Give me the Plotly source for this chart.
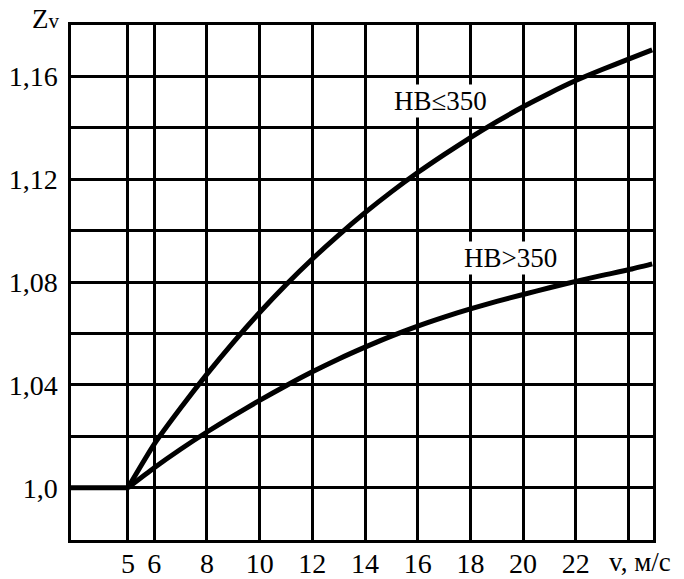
import plotly.graph_objects as go

# ---- data ----
baseline_v = [2.0, 5.0]
baseline_z = [1.0, 1.0]

v_soft = [5, 6, 7, 8, 9, 10, 11, 12, 13, 14, 15, 16, 17, 18, 19, 20, 21, 22, 23, 24, 24.9]
z_soft = [1.000, 1.017, 1.031, 1.0442, 1.0566, 1.0682, 1.079, 1.089, 1.0983, 1.107,
          1.1151, 1.1226, 1.1296, 1.1362, 1.1424, 1.1482, 1.1535, 1.1584, 1.1627, 1.1667, 1.1703]

v_hard = [5, 6, 7, 8, 9, 10, 11, 12, 13, 14, 15, 16, 17, 18, 19, 20, 21, 22, 23, 24, 24.9]
z_hard = [1.000, 1.0078, 1.015, 1.0217, 1.028, 1.034, 1.0397, 1.0451, 1.0501, 1.0547,
          1.059, 1.0629, 1.0664, 1.0696, 1.0725, 1.0752, 1.0778, 1.0803, 1.0826, 1.0848, 1.0871]

x_ticks = [5, 6, 8, 10, 12, 14, 16, 18, 20, 22, 24]
x_ticktext = ["5", "6", "8", "10", "12", "14", "16", "18", "20", "22", ""]
y_ticks = [1.00, 1.02, 1.04, 1.06, 1.08, 1.10, 1.12, 1.14, 1.16]
y_ticktext = ["1,0", "", "1,04", "", "1,08", "", "1,12", "", "1,16"]

label_soft = "HB≤350"
label_hard = "HB>350"
x_title = "v, м/с"
y_title = "Z<span style='font-size:21px'>v</span>"

FONT = "Liberation Serif, Times New Roman, serif"

fig = go.Figure()
fig.add_trace(go.Scatter(x=baseline_v, y=baseline_z, mode="lines",
                         line=dict(color="black", width=5), showlegend=False, hoverinfo="skip"))
fig.add_trace(go.Scatter(x=v_soft, y=z_soft, mode="lines",
                         line=dict(color="black", width=5, shape="spline", smoothing=0.6),
                         showlegend=False))
fig.add_trace(go.Scatter(x=v_hard, y=z_hard, mode="lines",
                         line=dict(color="black", width=5, shape="spline", smoothing=0.6),
                         showlegend=False))

fig.add_annotation(x=16.88, y=1.1504, xref="x", yref="y", text=label_soft, showarrow=False,
                   font=dict(family=FONT, size=27, color="black"), bgcolor="white")
fig.add_annotation(x=19.54, y=1.0894, xref="x", yref="y", text=label_hard, showarrow=False,
                   font=dict(family=FONT, size=27, color="black"), bgcolor="white")
fig.add_annotation(x=23.2, y=-0.043, xref="x", yref="paper", text=x_title, showarrow=False,
                   xanchor="left", yanchor="middle",
                   font=dict(family=FONT, size=27, color="black"))
fig.add_annotation(x=-0.043, y=1.0117, xref="paper", yref="paper", text=y_title,
                   showarrow=False, xanchor="center", yanchor="middle",
                   font=dict(family=FONT, size=27, color="black"))

fig.update_layout(
    width=684, height=579,
    margin=dict(l=71, r=31, t=25, b=39),
    paper_bgcolor="white", plot_bgcolor="white",
    font=dict(family=FONT, size=28, color="black"),
    showlegend=False,
)
fig.update_xaxes(range=[2.84, 24.93], tickvals=x_ticks, ticktext=x_ticktext,
                 showgrid=True, gridcolor="black", gridwidth=2.5,
                 showline=True, linecolor="black", linewidth=2.5, mirror=True,
                 ticks="", ticklabelstandoff=-3, zeroline=False, automargin=False,
                 tickfont=dict(family=FONT, size=28, color="black"))
fig.update_yaxes(range=[0.9797, 1.1800], tickvals=y_ticks, ticktext=y_ticktext,
                 showgrid=True, gridcolor="black", gridwidth=2.5,
                 showline=True, linecolor="black", linewidth=2.5, mirror=True,
                 ticks="", ticklabelstandoff=5, zeroline=False, automargin=False,
                 tickfont=dict(family=FONT, size=28, color="black"))

# remove the default page margin so the figure fills the window exactly
fig.write_html("out.html", config={"displayModeBar": False},
               post_script="document.body.style.margin='0';")
